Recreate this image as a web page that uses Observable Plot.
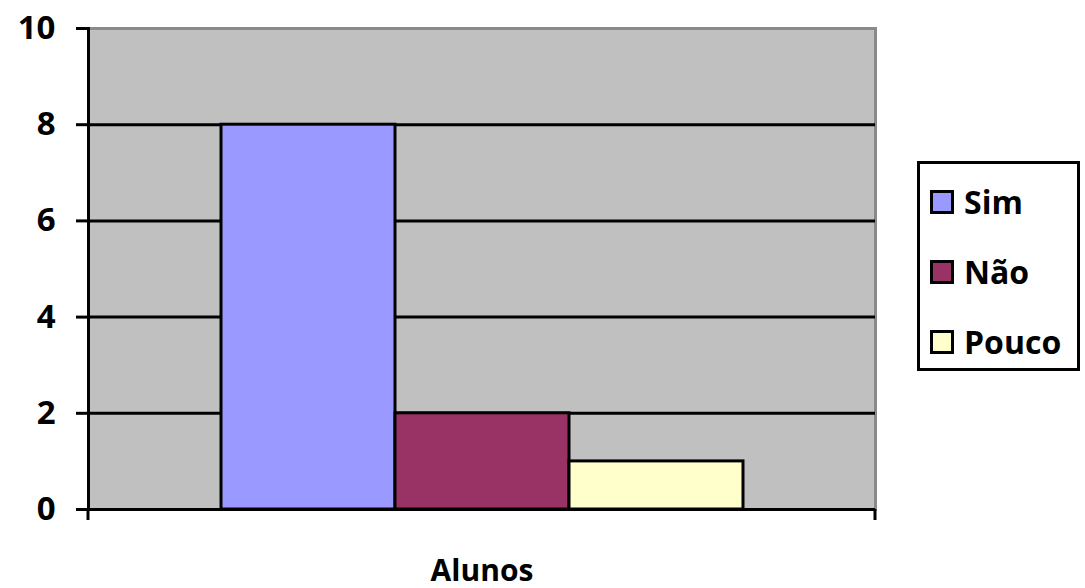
<!DOCTYPE html>
<html>
<head>
<meta charset="utf-8">
<script src="https://cdn.jsdelivr.net/npm/d3@7"></script>
<script src="https://cdn.jsdelivr.net/npm/@observablehq/plot@0.6"></script>
<style>
  html, body { margin: 0; padding: 0; background: #fff; }
  #wrap { position: relative; width: 1085px; height: 588px; font-family: "Open Sans", sans-serif; }
  #legend { position: absolute; left: 917px; top: 161px; width: 163px; height: 210px; border: 3px solid #000; background: #fff; box-sizing: border-box; }
  .item { position: absolute; left: 10px; display: flex; align-items: center; font-size: 32px; font-weight: 700; color: #000; line-height: 1; }
  .sw { width: 18px; height: 18px; border: 3px solid #000; margin-right: 10px; box-sizing: content-box; }
</style>
</head>
<body>
<div id="wrap"><div id="legend"></div></div>
<script>
const category = "Alunos";
const series = ["Sim", "Não", "Pouco"];
const values = [8, 2, 1];
const colors = ["#9999ff", "#993366", "#ffffcc"];
const yTicks = [0, 2, 4, 6, 8, 10];
const gridTicks = [2, 4, 6, 8];

const data = series.map((s, i) => ({category, series: s, value: values[i]}));

const edgeTicks = (index, scales, values, dims) => {
  const g = d3.create("svg:g");
  const x0 = dims.marginLeft, x1 = dims.width - dims.marginRight, y = dims.height - dims.marginBottom;
  for (const x of [x0, x1]) {
    g.append("line").attr("x1", x).attr("x2", x).attr("y1", y).attr("y2", y + 11)
      .attr("stroke", "#000").attr("stroke-width", 3);
  }
  return g.node();
};

const chart = Plot.plot({
  width: 1085,
  height: 588,
  marginLeft: 88,
  marginRight: 210,
  marginTop: 28,
  marginBottom: 79,
  style: {fontFamily: "'Open Sans', sans-serif", background: "transparent", overflow: "visible"},
  fx: {domain: [category], padding: 0, label: null},
  x: {type: "band", domain: series, paddingInner: 0, paddingOuter: 0.75, axis: null},
  y: {domain: [0, 10], axis: null, label: null},
  color: {domain: series, range: colors},
  marks: [
    Plot.frame({fill: "#c0c0c0", stroke: "#8a8a8a", strokeWidth: 3}),
    Plot.ruleY(gridTicks, {stroke: "#000", strokeWidth: 3}),
    Plot.barY(data, {fx: "category", x: "series", y: "value", fill: "series", stroke: "#000", strokeWidth: 3}),
    Plot.ruleY([0], {stroke: "#000", strokeWidth: 3}),
    Plot.frame({anchor: "left", stroke: "#000", strokeWidth: 3}),
    edgeTicks,
    Plot.axisY(yTicks, {label: null, tickSize: 12, tickPadding: 21, strokeWidth: 3, fontSize: 33, fontWeight: "bold", fill: "#000", stroke: "#000"}),
    Plot.axisFx({anchor: "bottom", tickSize: 0, tickPadding: 50, fontSize: 30, fontWeight: "bold", label: null})
  ]
});
document.getElementById("wrap").prepend(chart);

const legend = document.getElementById("legend");
series.forEach((s, i) => {
  const it = document.createElement("div");
  it.className = "item";
  it.style.top = (22 + i * 70) + "px";
  const sw = document.createElement("span");
  sw.className = "sw";
  sw.style.background = colors[i];
  const t = document.createElement("span");
  t.textContent = s;
  it.append(sw, t);
  legend.append(it);
});
</script>
</body>
</html>
